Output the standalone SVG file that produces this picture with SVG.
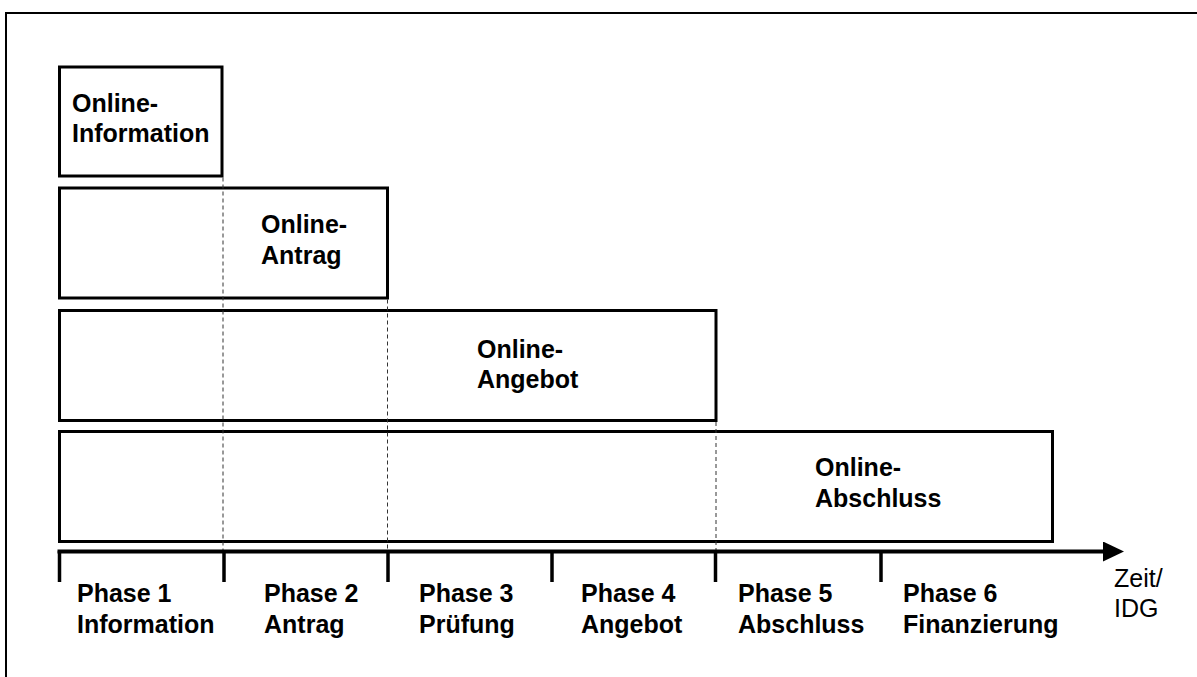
<svg xmlns="http://www.w3.org/2000/svg" width="1197" height="677" viewBox="0 0 1197 677">
  <style>
    .box { fill: #ffffff; stroke: #000000; stroke-width: 3; }
    .lbl { font-family: "Liberation Sans", Arial, sans-serif; font-weight: bold; font-size: 25px; fill: #000000; }
    .reg { font-family: "Liberation Sans", Arial, sans-serif; font-size: 25px; fill: #000000; }
    .guide { stroke: #333333; stroke-width: 1; stroke-dasharray: 4 3; fill: none; }
    .axis { stroke: #000000; stroke-width: 4; fill: none; }
    .tick { stroke: #000000; stroke-width: 3.5; fill: none; }
  </style>
  <defs>
    <marker id="arrowhead" viewBox="0 0 21 20" refX="0" refY="10" markerWidth="21" markerHeight="20" markerUnits="userSpaceOnUse" orient="auto">
      <path d="M0,0 L21,10 L0,20 Z" fill="#000000"/>
    </marker>
  </defs>

  <rect x="0" y="0" width="1197" height="677" fill="#ffffff"/>
  <!-- outer frame -->
  <rect x="6" y="13" width="1200" height="700" fill="none" stroke="#000000" stroke-width="2"/>

  <!-- stacked online stages -->
  <g id="online-information">
    <rect class="box" x="59.5" y="67" width="162.5" height="109"/>
    <text class="lbl" x="72" y="112">Online-</text>
    <text class="lbl" x="72" y="142">Information</text>
  </g>
  <g id="online-antrag">
    <rect class="box" x="59.5" y="188" width="328" height="110"/>
    <text class="lbl" x="261" y="233">Online-</text>
    <text class="lbl" x="261" y="264">Antrag</text>
  </g>
  <g id="online-angebot">
    <rect class="box" x="59.5" y="310.5" width="656.5" height="110"/>
    <text class="lbl" x="477" y="358">Online-</text>
    <text class="lbl" x="477" y="388">Angebot</text>
  </g>
  <g id="online-abschluss">
    <rect class="box" x="59.5" y="431.5" width="993" height="110"/>
    <text class="lbl" x="815" y="476">Online-</text>
    <text class="lbl" x="815" y="507">Abschluss</text>
  </g>

  <!-- phase boundaries, time axis and ticks -->
  <g id="connectors">
    <line class="guide" x1="223" y1="177.5" x2="223" y2="551"/>
    <line class="guide" x1="387.5" y1="299.5" x2="387.5" y2="551"/>
    <line class="guide" x1="716" y1="422" x2="716" y2="551"/>
    <line class="axis" x1="57.5" y1="551.5" x2="1103" y2="551.5" marker-end="url(#arrowhead)"/>
    <line class="tick" x1="59.5" y1="551" x2="59.5" y2="582"/>
    <line class="tick" x1="224" y1="551" x2="224" y2="582"/>
    <line class="tick" x1="388" y1="551" x2="388" y2="582"/>
    <line class="tick" x1="552" y1="551" x2="552" y2="582"/>
    <line class="tick" x1="715.5" y1="551" x2="715.5" y2="582"/>
    <line class="tick" x1="881" y1="551" x2="881" y2="582"/>
  </g>

  <!-- phase labels -->
  <g id="phase-1">
    <text class="lbl" x="77" y="602">Phase 1</text>
    <text class="lbl" x="77" y="633">Information</text>
  </g>
  <g id="phase-2">
    <text class="lbl" x="264" y="602">Phase 2</text>
    <text class="lbl" x="264" y="633">Antrag</text>
  </g>
  <g id="phase-3">
    <text class="lbl" x="419" y="602">Phase 3</text>
    <text class="lbl" x="419" y="633">Prüfung</text>
  </g>
  <g id="phase-4">
    <text class="lbl" x="581" y="602">Phase 4</text>
    <text class="lbl" x="581" y="633">Angebot</text>
  </g>
  <g id="phase-5">
    <text class="lbl" x="738" y="602">Phase 5</text>
    <text class="lbl" x="738" y="633">Abschluss</text>
  </g>
  <g id="phase-6">
    <text class="lbl" x="903" y="602">Phase 6</text>
    <text class="lbl" x="903" y="633">Finanzierung</text>
  </g>
  <g id="axis-label">
    <text class="reg" x="1114" y="587">Zeit/</text>
    <text class="reg" x="1114" y="617">IDG</text>
  </g>
</svg>
